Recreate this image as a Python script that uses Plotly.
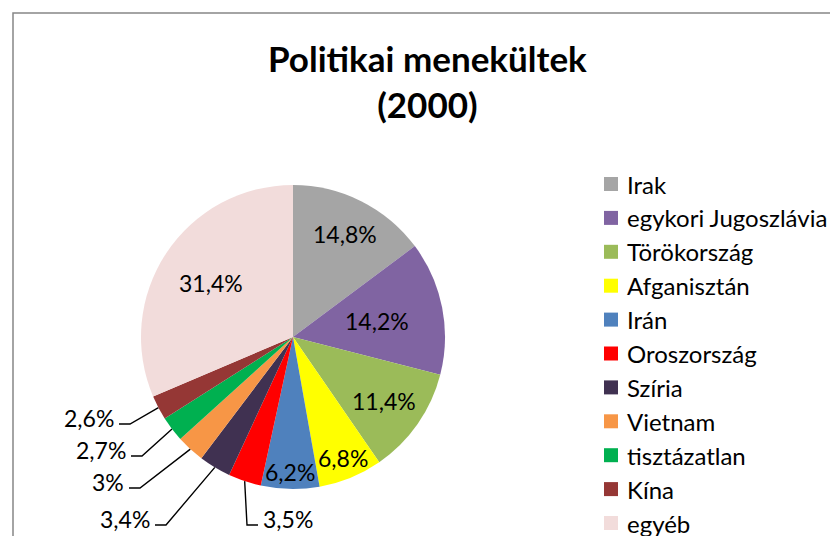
import math
import plotly.graph_objects as go

# --- data ---
countries = ["Irak", "egykori Jugoszlávia", "Törökország", "Afganisztán", "Irán",
             "Oroszország", "Szíria", "Vietnam", "tisztázatlan", "Kína", "egyéb"]
shares = [14.8, 14.2, 11.4, 6.8, 6.2, 3.5, 3.4, 3.0, 2.7, 2.6, 31.4]
colors = ["#A5A5A5", "#8064A2", "#9BBB59", "#FFFF00", "#4F81BD", "#FF0000",
          "#403151", "#F79646", "#00B050", "#953735", "#F2DCDB"]

W, H = 830, 536
CX, CY, R = 293, 337, 152
FONT = "Lato"
FS = 23

# where each data label sits: inside -> fraction of radius; outside -> elbow point of leader line
inside_frac = {0: 0.76, 1: 0.56, 2: 0.73, 3: 0.86, 4: 0.89, 10: 0.65}
outside_elbow = {5: (247, 525, "right"), 6: (166, 525, "left"), 7: (140, 488, "left"),
                 8: (142, 456, "left"), 9: (130, 424, "left")}


def fmt(v):
    s = ("%.1f" % v).rstrip("0").rstrip(".")
    return s.replace(".", ",") + "%"


fig = go.Figure()

fig.add_trace(go.Pie(
    labels=countries, values=shares, sort=False, direction="clockwise", rotation=0,
    marker=dict(colors=colors, line=dict(width=0)),
    textinfo="none", hoverinfo="label+percent", showlegend=False,
    domain=dict(x=[(CX - R) / W, (CX + R) / W], y=[1 - (CY + R) / H, 1 - (CY - R) / H]),
))

annotations = []
total = sum(shares)
cum = 0
for i, v in enumerate(shares):
    mid = (cum + v / 2) / total * 2 * math.pi
    cum += v
    sx, sy = math.sin(mid), -math.cos(mid)
    if i in inside_frac:
        f = inside_frac[i]
        annotations.append(dict(x=CX + f * R * sx, y=CY + f * R * sy, text=fmt(v),
                                showarrow=False, xref="x", yref="y",
                                font=dict(family=FONT, size=FS, color="black")))
    else:
        ex, ey, side = outside_elbow[i]
        px, py = CX + R * sx, CY + R * sy
        endx = ex + 11 if side == "right" else ex - 11
        fig.add_trace(go.Scatter(x=[px, ex, endx], y=[py, ey, ey], mode="lines",
                                 line=dict(color="black", width=1.4),
                                 hoverinfo="skip", showlegend=False))
        annotations.append(dict(x=endx + (3 if side == "right" else -3), y=ey - 6, text=fmt(v),
                                showarrow=False, xref="x", yref="y",
                                xanchor="left" if side == "right" else "right",
                                font=dict(family=FONT, size=FS, color="black")))

# manual legend (Excel style spacing)
LX, LY0, LSTEP = 611, 184, 33.9
for i, name in enumerate(countries):
    fig.add_trace(go.Scatter(x=[LX], y=[LY0 + i * LSTEP], mode="markers",
                             marker=dict(symbol="square", size=14, color=colors[i]),
                             hoverinfo="skip", showlegend=False))
    annotations.append(dict(x=LX + 14, y=LY0 + i * LSTEP, text=name, showarrow=False,
                            xref="x", yref="y", xanchor="left",
                            font=dict(family=FONT, size=24, color="black")))

annotations.append(dict(x=427, y=81, text="<b>Politikai menekültek<br>(2000)</b>",
                        showarrow=False, xref="x", yref="y",
                        font=dict(family=FONT, size=35, color="black")))

fig.update_layout(
    width=W, height=H, margin=dict(l=0, r=0, t=0, b=0),
    paper_bgcolor="white", plot_bgcolor="rgba(0,0,0,0)",
    xaxis=dict(range=[0, W], visible=False, fixedrange=True),
    yaxis=dict(range=[H, 0], visible=False, fixedrange=True),
    annotations=annotations,
    shapes=[dict(type="rect", xref="paper", yref="paper", x0=13 / W, x1=1.2, y0=-0.2, y1=1 - 13 / H,
                 line=dict(color="#868686", width=1.5))],
)

fig.write_html("out.html", config={"displayModeBar": False},
               post_script="document.body.style.margin='0';")
